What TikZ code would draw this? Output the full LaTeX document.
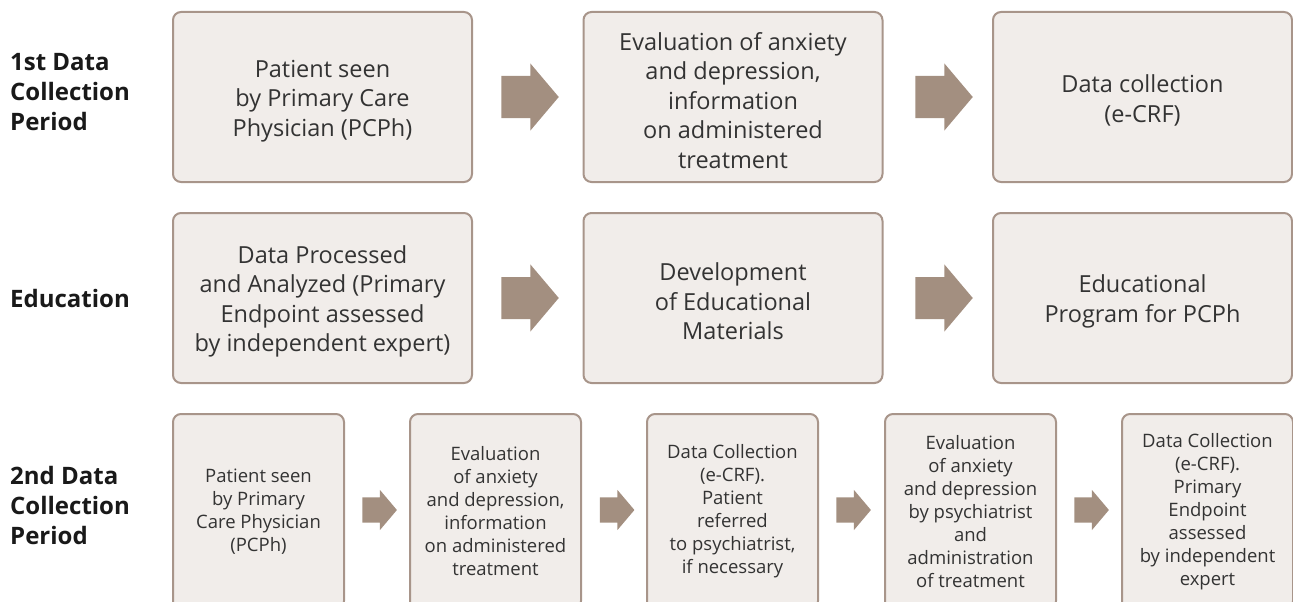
\documentclass[tikz,border=0pt]{standalone}
\usepackage{fontspec}
\setmainfont{Open Sans}
\usetikzlibrary{calc}

\definecolor{boxfill}{HTML}{F1EDEA}
\definecolor{boxline}{HTML}{A8958A}
\definecolor{arrowbrown}{HTML}{A38F80}
\definecolor{textgray}{HTML}{333333}

% a little extra room above the first line of the large boxes
\newcommand{\topgap}{\rule{0pt}{25pt}}

\tikzset{
  stagebox/.style={draw=boxline, line width=2pt, fill=boxfill, rounded corners=8pt,
    align=center, text=textgray},
  bigbox/.style={stagebox, minimum width=299pt, minimum height=170pt,
    font=\fontsize{23.5}{29.5}\selectfont},
  smallbox/.style={stagebox, minimum width=171pt, minimum height=195pt,
    font=\fontsize{18.5}{23}\selectfont},
  rowlabel/.style={anchor=west, align=left, inner sep=0pt, text=black!90,
    font=\fontsize{24}{30}\selectfont\bfseries},
  fatarrow/.pic={
    \fill[arrowbrown] (-28.5,-21) -- (0.5,-21) -- (0.5,-33.7) -- (29,0)
      -- (0.5,33.7) -- (0.5,21) -- (-28.5,21) -- cycle;
  }
}

\begin{document}
\begin{tikzpicture}[x=1pt, y=-1pt]
        \useasboundingbox (0,0) rectangle (1293,602);

        % row labels
        \node[rowlabel] (lab1) at (10,92) {1st Data\\Collection\\Period};
        \node[rowlabel] (lab2) at (10,298) {Education};
        \node[rowlabel] (lab3) at (10,505) {2nd Data\\Collection\\Period};

        % 1st data collection period
        \node[bigbox] (see1) at (322.5,97) {\topgap Patient seen\\by Primary Care\\Physician (PCPh)};
        \node[bigbox] (eval1) at (733,97) {\topgap Evaluation of anxiety\\and depression,\\information\\on administered\\treatment};
        \node[bigbox] (crf1) at (1142.5,97) {\topgap Data collection\\(e-CRF)};

        % education
        \node[bigbox] (proc) at (322.5,298) {\topgap Data Processed\\and Analyzed (Primary\\Endpoint assessed\\by independent expert)};
        \node[bigbox] (mat) at (733,298) {\topgap Development\\of Educational\\Materials};
        \node[bigbox] (prog) at (1142.5,298) {\topgap Educational\\Program for PCPh};

        % 2nd data collection period
        \node[smallbox] (see2) at (258.5,511.5) {Patient seen\\by Primary\\Care Physician\\(PCPh)};
        \node[smallbox] (eval2) at (495.5,511.5) {Evaluation\\of anxiety\\and depression,\\information\\on administered\\treatment};
        \node[smallbox] (crf2) at (732.5,511.5) {Data Collection\\(e-CRF).\\Patient\\referred\\to psychiatrist,\\if necessary};
        \node[smallbox] (psy) at (970.5,511.5) {Evaluation\\of anxiety\\and depression\\by psychiatrist\\and\\administration\\of treatment};
        \node[smallbox] (crf3) at (1207.5,511.5) {Data Collection\\(e-CRF).\\Primary\\Endpoint\\assessed\\by independent\\expert};

        % arrows
        \pic at ($(see1.east)!0.5!(eval1.west)+(2,0)$) {fatarrow};
        \pic at ($(eval1.east)!0.5!(crf1.west)+(6,0)$) {fatarrow};
        \pic at ($(proc.east)!0.5!(mat.west)+(2,0)$) {fatarrow};
        \pic at ($(mat.east)!0.5!(prog.west)+(6,0)$) {fatarrow};
        \pic[scale=0.6] at ($(see2.east)!0.5!(eval2.west)+(2.5,-1.5)$) {fatarrow};
        \pic[scale=0.6] at ($(eval2.east)!0.5!(crf2.west)+(3,-1.5)$) {fatarrow};
        \pic[scale=0.6] at ($(crf2.east)!0.5!(psy.west)+(2,-1.5)$) {fatarrow};
        \pic[scale=0.6] at ($(psy.east)!0.5!(crf3.west)+(2.5,-1.5)$) {fatarrow};

     \end{tikzpicture}
\end{document}
